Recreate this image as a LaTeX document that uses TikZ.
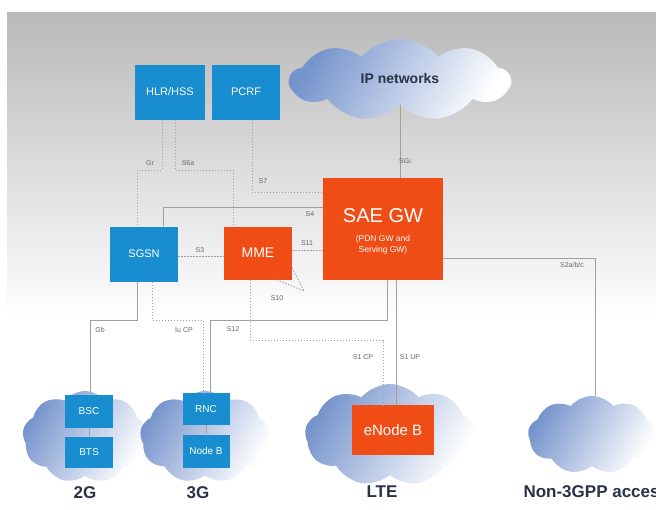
\documentclass[tikz,border=0pt]{standalone}
\usepackage{fontspec}
\setmainfont{Liberation Sans}
\usetikzlibrary{shapes.symbols}

\definecolor{boxblue}{RGB}{24,142,208}
\definecolor{boxred}{RGB}{240,76,22}
\definecolor{cloudblue}{RGB}{118,148,204}
\definecolor{linegray}{RGB}{160,160,160}
\definecolor{titlegray}{RGB}{40,52,70}

\tikzset{
    bluebox/.style={rectangle, fill=boxblue, text=white, inner sep=0pt, align=center},
    redbox/.style={rectangle, fill=boxred, text=white, inner sep=0pt, align=center},
    netcloud/.style={cloud, cloud puffs=9, cloud puff arc=100, inner sep=0pt,
        left color=cloudblue, right color=white, shading angle=60},
    link/.style={draw=linegray, line width=0.8pt},
    ctrl/.style={link, dash pattern=on 1.5pt off 1.5pt},
    iflabel/.style={text=gray!80!black, font=\fontsize{7}{8}\selectfont, inner sep=1pt},
    netlabel/.style={font=\bfseries\fontsize{17}{19}\selectfont, text=titlegray}
}

\begin{document}
\begin{tikzpicture}[x=1pt, y=-1pt]
    \useasboundingbox (0,0) rectangle (656,509);
    \fill[white] (0,0) rectangle (656,509);
    \shade[top color=gray!55, bottom color=white] (7,12) rectangle (656,320);

    % access clouds
    \node[netcloud, minimum width=220, minimum height=82] (ip) at (400,80) {};
    \node[netcloud, minimum width=125, minimum height=92] (cloud2g) at (85,437) {};
    \node[netcloud, minimum width=130, minimum height=92] (cloud3g) at (205,437) {};
    \node[netcloud, minimum width=170, minimum height=102] (cloudlte) at (390,435) {};
    \node[netcloud, minimum width=128, minimum height=78] (cloudn3) at (592,435) {};
    \node[netlabel, font=\bfseries\fontsize{14}{16}\selectfont] at (400,78) {IP networks};

    % core nodes
    \node[bluebox, minimum width=70, minimum height=55, font=\fontsize{11}{13}\selectfont] (hlr) at (170,92) {HLR/HSS};
    \node[bluebox, minimum width=68, minimum height=55, font=\fontsize{11}{13}\selectfont] (pcrf) at (246,92) {PCRF};
    \node[redbox, minimum width=120, minimum height=102] (saegw) at (383,229) {};
    \node[text=white, font=\fontsize{20}{24}\selectfont] (saetitle) at (383,216) {SAE GW};
    \node[text=white, align=center, font=\fontsize{8.5}{11}\selectfont] (saesub) at (383,245) {(PDN GW and\\Serving GW)};
    \node[bluebox, minimum width=68, minimum height=55, font=\fontsize{11}{13}\selectfont] (sgsn) at (144,254) {SGSN};
    \node[redbox, minimum width=68, minimum height=53, font=\fontsize{14}{16}\selectfont] (mme) at (258,253) {MME};

    % radio nodes
    \node[bluebox, minimum width=48, minimum height=33, font=\fontsize{10}{12}\selectfont] (bsc) at (89,411) {BSC};
    \node[bluebox, minimum width=48, minimum height=31, font=\fontsize{10}{12}\selectfont] (bts) at (89,452) {BTS};
    \node[bluebox, minimum width=47, minimum height=32, font=\fontsize{10}{12}\selectfont] (rnc) at (206,409) {RNC};
    \node[bluebox, minimum width=47, minimum height=33, font=\fontsize{10}{12}\selectfont] (nodeb) at (206,451) {Node B};
    \node[redbox, minimum width=82, minimum height=50, font=\fontsize{15}{17}\selectfont] (enb) at (393,430) {eNode B};

    \node[netlabel] (lbl2g) at (85,493) {2G};
    \node[netlabel] (lbl3g) at (198,493) {3G};
    \node[netlabel] (lbllte) at (382,492) {LTE};
    \node[netlabel, anchor=west] (lbln3) at (520,492) {Non-3GPP access};

    % interfaces
    \draw[link] (ip.south) -- (ip.south |- saegw.north);
    \draw[ctrl] (hlr.south -| 162,0) |- (137,170) -- (sgsn.north -| 137,0);
    \draw[ctrl] (hlr.south -| 175,0) |- (233,170) -- (mme.north -| 233,0);
    \draw[ctrl] (pcrf.south -| 252,0) |- (saegw.west |- 0,192);
    \draw[link] (sgsn.north -| 163,0) |- (saegw.west |- 0,207);
    \draw[ctrl] (sgsn.east |- 0,256) -- (mme.west |- 0,256);
    \draw[ctrl] (mme.east |- 0,250) -- (saegw.west |- 0,250);
    \draw[ctrl] (mme.south -| 277,0) -- (304,291) -- (mme.east |- 0,268);
    \draw[link] (sgsn.south -| 137,0) |- (90,320) -- (bsc.north -| 90,0);
    \draw[ctrl] (sgsn.south -| 152,0) |- (203,320) -- (rnc.north -| 203,0);
    \draw[link] (saegw.south -| 387,0) |- (210,320) -- (rnc.north -| 210,0);
    \draw[ctrl] (mme.south -| 250,0) |- (383,340) -- (enb.north -| 383,0);
    \draw[link] (saegw.south -| 396,0) -- (enb.north -| 396,0);
    \draw[link] (saegw.east |- 0,258) -| (cloudn3.north -| 595,0);
    \draw[link] (bsc) -- (bts);
    \draw[link] (rnc) -- (nodeb);

    \node[iflabel] at (405,161) {SGi};
    \node[iflabel] at (150,163) {Gr};
    \node[iflabel] at (188,163) {S6a};
    \node[iflabel] at (263,181) {S7};
    \node[iflabel] at (310,214) {S4};
    \node[iflabel] at (200,250) {S3};
    \node[iflabel] at (307,243) {S11};
    \node[iflabel] at (277,298) {S10};
    \node[iflabel] at (100,330) {Gb};
    \node[iflabel] at (184,330) {Iu CP};
    \node[iflabel] at (233,329) {S12};
    \node[iflabel] at (363,357) {S1 CP};
    \node[iflabel] at (410,357) {S1 UP};
    \node[iflabel] at (572,265) {S2a/b/c};
\end{tikzpicture}
\end{document}
